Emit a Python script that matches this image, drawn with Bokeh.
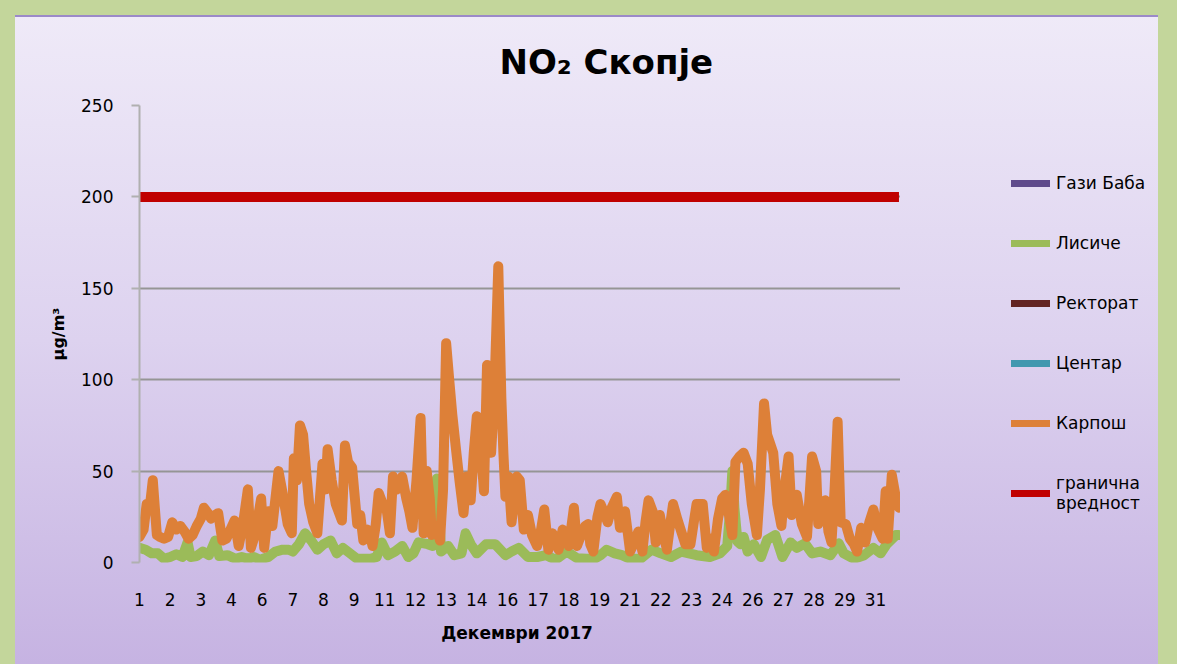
from bokeh.plotting import figure
from bokeh.models import Range1d, FixedTicker, Legend, LegendItem
from bokeh.layouts import row
from bokeh.embed import file_html
from bokeh.resources import INLINE

# ---------------- data ----------------
series_names = ["Гази Баба", "Лисиче", "Ректорат", "Центар", "Карпош", "гранична\nвредност"]
series_colors = ["#5f4a8b", "#9bbb59", "#632423", "#4198af", "#dd8038", "#c00000"]

# Карпош, hourly NO2 (hour index of December 2017, µg/m3)
karpos_hour = [0, 4, 7, 10, 13, 15, 17, 20, 24, 28, 32, 36, 40, 44, 48, 52, 56, 60, 63, 67, 70, 74, 77, 81,
               85, 89, 93, 97, 101, 106, 109, 113, 116, 119, 122, 126, 130, 136, 140, 145, 149, 151, 154,
               157, 160, 163, 166, 170, 174, 179, 182, 184, 188, 192, 198, 201, 204, 208, 213, 216, 219,
               223, 226, 228, 231, 234, 238, 242, 245, 248, 252, 257, 261, 264, 267, 271, 275, 278, 281,
               284, 286, 290, 294, 297, 300, 303, 306, 310, 313, 317, 320, 324, 327, 330, 333, 337, 340,
               342, 344, 347, 351, 354, 356, 358, 361, 364, 369, 372, 376, 380, 384, 389, 392, 396, 400,
               404, 407, 410, 414, 417, 420, 425, 428, 432, 436, 439, 441, 444, 448, 451, 454, 458, 462,
               467, 470, 475, 480, 484, 488, 492, 495, 498, 502, 505, 509, 513, 516, 519, 522, 526, 530,
               534, 539, 545, 551, 555, 559, 562, 566, 570, 573, 577, 580, 583, 587, 591, 595, 599, 604,
               607, 611, 614, 617, 620, 624, 628, 631, 635, 638, 643, 648, 653, 658, 662, 664, 667, 671,
               674, 677, 680, 683, 686, 691, 695, 699, 702, 706, 710, 714, 718, 722, 727, 730, 732, 736,
               741, 743]
karpos_value = [14, 18, 32, 30, 45, 30, 15, 14, 13, 14, 22, 18, 20, 17, 13, 15, 20, 24, 30, 27, 24, 26, 27, 12,
                13, 18, 23, 9, 20, 40, 8, 15, 25, 35, 8, 28, 20, 50, 38, 21, 16, 57, 45,
                75, 70, 50, 32, 22, 16, 54, 40, 62, 45, 32, 23, 64, 55, 52, 21, 26, 12,
                18, 14, 9, 20, 38, 32, 28, 16, 47, 40, 47, 35, 28, 19, 45, 79, 16, 50,
                35, 15, 20, 12, 40, 120, 100, 81, 60, 45, 27, 47, 34, 60, 80, 70, 39, 108,
                85, 60, 90, 162, 90, 60, 36, 47, 22, 47, 45, 18, 26, 15, 9, 15, 29, 7,
                16, 12, 7, 18, 14, 9, 30, 9, 15, 20, 21, 10, 6, 25, 32, 28, 22, 30,
                36, 19, 28, 6, 11, 17, 6, 22, 34, 28, 11, 26, 14, 7, 20, 32, 24, 17,
                10, 10, 32, 32, 8, 13, 6, 24, 35, 37, 25, 15, 55, 58, 60, 54, 32, 15,
                40, 87, 70, 65, 60, 32, 20, 40, 58, 26, 37, 21, 14, 58, 50, 21, 30, 34,
                17, 11, 40, 77, 22, 21, 13, 10, 6, 19, 11, 22, 29, 19, 13, 39, 13, 48,
                32, 30]

# Лисиче, hourly NO2
lisice_hour = [0, 6, 12, 18, 24, 30, 36, 42, 47, 50, 56, 62, 68, 74, 78, 86, 94, 100, 106, 112, 118, 126,
               133, 140, 146, 150, 156, 162, 168, 174, 180, 187, 193, 199, 206, 213, 226, 232, 237, 243,
               250, 257, 263, 268, 273, 282, 287, 289, 291, 293, 295, 302, 308, 315, 319, 324, 330, 339,
               348, 358, 364, 371, 380, 389, 398, 407, 418, 428, 437, 445, 451, 457, 465, 472, 480, 490,
               501, 510, 520, 530, 545, 558, 568, 575, 578, 580, 582, 585, 588, 591, 595, 601, 608, 614,
               622, 629, 637, 643, 651, 658, 666, 676, 684, 689, 699, 709, 718, 725, 731, 740, 743]
lisice_value = [8, 7, 5, 5, 2, 3, 4.5, 3, 11, 3, 3.5, 6, 4, 12, 3.5, 4, 2, 3, 2, 3, 1.5, 3,
                6, 7, 7, 6, 10, 16, 12, 7, 10, 12, 5, 8, 5, 2, 2, 3, 11, 4,
                6, 9, 3, 5, 11, 10, 9, 30, 46, 30, 6, 9, 4, 5, 16, 10, 5, 10,
                10, 4, 6, 8, 3, 3, 4, 1.5, 6, 2.4, 2, 2, 4, 7, 5, 4, 2, 2,
                7, 5, 3, 6, 4, 3, 5, 9, 30, 50, 30, 11.5, 10, 14, 6, 10, 3, 12.4,
                15, 3, 11, 8, 10.5, 5, 6, 4, 10.5, 5, 2, 4, 8, 5, 10, 15, 15]

# Гази Баба, Ректорат, Центар: no measurements in this period
NAN = float("nan")
gazi_baba_hour, gazi_baba_value = [NAN], [NAN]
rektorat_hour, rektorat_value = [NAN], [NAN]
centar_hour, centar_value = [NAN], [NAN]

limit_hour = [0, 743]
limit_value = [200, 200]

x_tick_hours = [0, 30, 60, 90, 120, 150, 180, 210, 240, 270, 300, 330, 360, 390, 420, 450, 480, 510,
                540, 570, 600, 630, 660, 690, 720]
x_tick_labels = ["1", "2", "3", "4", "6", "7", "8", "9", "11", "12", "13", "14", "16", "17", "18", "19",
                 "21", "22", "23", "24", "26", "27", "28", "29", "31"]
y_ticks = [0, 50, 100, 150, 200, 250]

title_text = "NO₂ Скопје"
x_title = "Декември  2017"
y_title = "µg/m³"

# ---------------- figure ----------------
H = 649
W_MAIN, W_LEG = 885, 258
FONT = "DejaVu Sans"
GRADIENT = {"background": "linear-gradient(180deg, #efeaf8 0%, #ddd2ef 50%, #c6b3e2 100%)",
            "box-shadow": "inset 0 2px 0 #9b8ac8"}

p = figure(width=W_MAIN, height=H, output_backend="svg", toolbar_location=None,
           x_range=Range1d(0, 744.5), y_range=Range1d(0, 250),
           min_border_left=124, min_border_right=0, min_border_top=90, min_border_bottom=102)
p.background_fill_alpha = 0
p.border_fill_alpha = 0
p.outline_line_color = None
p.styles = dict(GRADIENT)

# title
p.title.text = title_text
p.title.align = "left"
p.title.offset = 360
p.title.standoff = 48
p.title.text_font = FONT
p.title.text_font_size = "34px"
p.title.text_font_style = "bold"
p.title.text_color = "#000000"

# axes
p.xaxis.ticker = FixedTicker(ticks=x_tick_hours)
p.xaxis.major_label_overrides = {h: lbl for h, lbl in zip(x_tick_hours, x_tick_labels)}
p.xaxis.axis_line_color = None
p.xaxis.major_tick_line_color = None
p.xaxis.minor_tick_line_color = None
p.xaxis.major_label_standoff = 24
p.xaxis.major_label_text_font = FONT
p.xaxis.major_label_text_font_size = "17px"
p.xaxis.major_label_text_color = "#000000"
p.xaxis.axis_label = x_title
p.xaxis.axis_label_text_font = FONT
p.xaxis.axis_label_text_font_size = "17px"
p.xaxis.axis_label_text_font_style = "bold"
p.xaxis.axis_label_text_color = "#000000"
p.xaxis.axis_label_standoff = 14

p.yaxis.ticker = FixedTicker(ticks=y_ticks)
p.yaxis.axis_line_color = "#b0b0b0"
p.yaxis.axis_line_width = 2
p.yaxis.major_tick_line_color = "#b0b0b0"
p.yaxis.major_tick_line_width = 2
p.yaxis.major_tick_out = 8
p.yaxis.major_tick_in = 0
p.yaxis.minor_tick_line_color = None
p.yaxis.major_label_standoff = 18
p.yaxis.major_label_text_font = FONT
p.yaxis.major_label_text_font_size = "17px"
p.yaxis.major_label_text_color = "#000000"
p.yaxis.axis_label = y_title
p.yaxis.axis_label_text_font = FONT
p.yaxis.axis_label_text_font_size = "16px"
p.yaxis.axis_label_text_font_style = "bold"
p.yaxis.axis_label_text_color = "#000000"
p.yaxis.axis_label_standoff = 10

p.xgrid.grid_line_color = None
p.ygrid.ticker = FixedTicker(ticks=y_ticks)
p.ygrid.grid_line_color = "#959595"
p.ygrid.grid_line_width = 2

# data lines (series order as in the original chart)
LW = 10
p.line(gazi_baba_hour, gazi_baba_value, line_color=series_colors[0], line_width=LW)
p.line(lisice_hour, lisice_value, line_color=series_colors[1], line_width=LW,
       line_join="round", line_cap="round")
p.line(rektorat_hour, rektorat_value, line_color=series_colors[2], line_width=LW)
p.line(centar_hour, centar_value, line_color=series_colors[3], line_width=LW)
p.line(karpos_hour, karpos_value, line_color=series_colors[4], line_width=LW,
       line_join="round", line_cap="round")
p.line(limit_hour, limit_value, line_color=series_colors[5], line_width=LW, line_cap="butt")

# ---------------- legend panel ----------------
lg = figure(width=W_LEG, height=H, output_backend="svg", toolbar_location=None,
            x_range=Range1d(0, 1), y_range=Range1d(0, 1), x_axis_type=None, y_axis_type=None,
            min_border=0)
lg.background_fill_alpha = 0
lg.border_fill_alpha = 0
lg.outline_line_color = None
lg.grid.visible = False
lg.styles = dict(GRADIENT)

items = []
for name, col in zip(series_names, series_colors):
    r = lg.line([NAN], [NAN], line_color=col, line_width=7, line_cap="round")
    items.append(LegendItem(label=name, renderers=[r]))

legend = Legend(items=items, location=(111, 49), orientation="vertical",
                glyph_width=39, glyph_height=20, label_height=20, label_standoff=6,
                spacing=40, padding=0, margin=0,
                label_text_font=FONT, label_text_font_size="17px", label_text_color="#000000",
                label_text_line_height=1.6,
                border_line_alpha=0, background_fill_alpha=0)
lg.add_layout(legend)

layout = row(p, lg, spacing=0)

html = file_html(layout, INLINE)
html = html.replace("</head>",
                    "<style>html,body{background:#c3d69b;} body{margin:15px 0 0 15px;}</style></head>", 1)
open("out.html", "w").write(html)
